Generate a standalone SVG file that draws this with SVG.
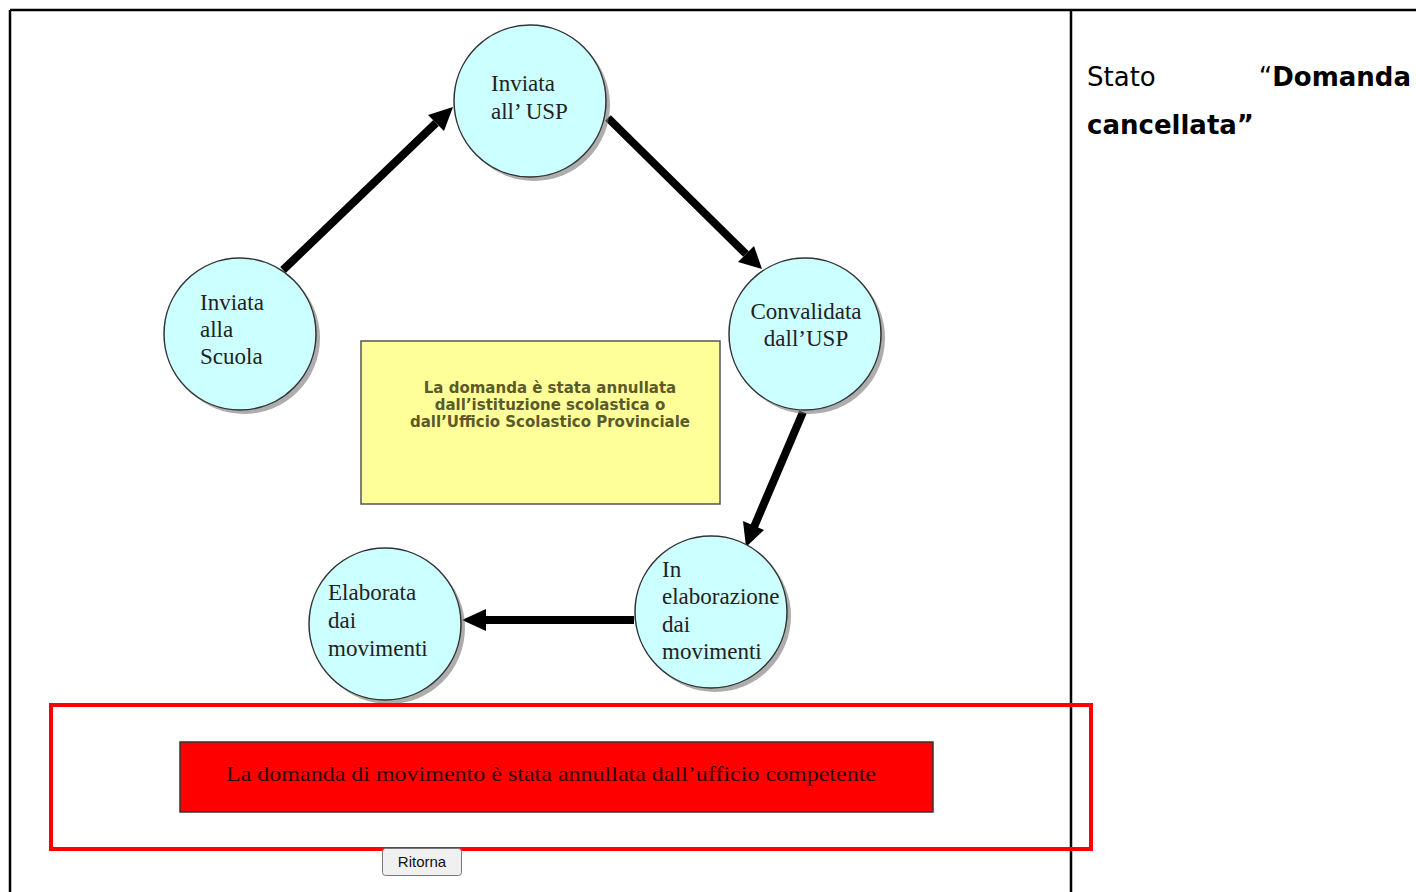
<svg xmlns="http://www.w3.org/2000/svg" width="1416" height="892" viewBox="0 0 1416 892">
<defs>
<style>
.c{fill:#ccffff;stroke:#333;stroke-width:1.5}
.sh{fill:#777;opacity:0.6}
.t{font-family:"Liberation Serif",serif;font-size:23px;fill:#222}
.ln{stroke:#000;stroke-width:8;fill:none}
.hd{fill:#000}
.bt{font-family:"DejaVu Sans",sans-serif;font-weight:bold;font-size:15px;fill:#5a5a2a}
</style>
</defs>
<rect width="1416" height="892" fill="#fff"/>
<g id="table" stroke="#000" stroke-width="2.5" fill="none">
<line x1="10" y1="10" x2="1416" y2="10"/>
<line x1="10" y1="10" x2="10" y2="892"/>
<line x1="1071" y1="10" x2="1071" y2="892"/>
</g>
<g id="connectors">
<line class="ln" x1="283" y1="270" x2="436" y2="123"/>
<polygon class="hd" points="453,107 444,131 428,115"/>
<line class="ln" x1="608" y1="118" x2="746" y2="254"/>
<polygon class="hd" points="762,269 738,262 754,246"/>
<line class="ln" x1="803" y1="412" x2="754" y2="527"/>
<polygon class="hd" points="746,547 743,521 764,530"/>
<line class="ln" x1="634" y1="620" x2="484" y2="620"/>
<polygon class="hd" points="462,620 486,609 486,631"/>
</g>
<g id="n1">
<circle class="sh" cx="244" cy="338" r="76"/>
<circle class="c" cx="240" cy="334" r="76"/>
<text class="t" x="200" y="310">Inviata</text>
<text class="t" x="200" y="337">alla</text>
<text class="t" x="200" y="364">Scuola</text>
</g>
<g id="n2">
<circle class="sh" cx="534" cy="105" r="76"/>
<circle class="c" cx="530" cy="101" r="76"/>
<text class="t" x="491" y="91">Inviata</text>
<text class="t" x="491" y="119">all’ USP</text>
</g>
<g id="n3">
<circle class="sh" cx="809" cy="338" r="76"/>
<circle class="c" cx="805" cy="334" r="76"/>
<text class="t" x="806" y="319" text-anchor="middle">Convalidata</text>
<text class="t" x="806" y="346" text-anchor="middle">dall’USP</text>
</g>
<g id="n4">
<circle class="sh" cx="715" cy="616" r="76"/>
<circle class="c" cx="711" cy="612" r="76"/>
<text class="t" x="662" y="577">In</text>
<text class="t" x="662" y="604">elaborazione</text>
<text class="t" x="662" y="632">dai</text>
<text class="t" x="662" y="659">movimenti</text>
</g>
<g id="n5">
<circle class="sh" cx="389" cy="628" r="76"/>
<circle class="c" cx="385" cy="624" r="76"/>
<text class="t" x="328" y="600">Elaborata</text>
<text class="t" x="328" y="628">dai</text>
<text class="t" x="328" y="656">movimenti</text>
</g>
<g id="note">
<rect x="361" y="341" width="359" height="163" fill="#ffff99" stroke="#555" stroke-width="1.5"/>
<text class="bt" x="550" y="393" text-anchor="middle">La domanda è stata annullata</text>
<text class="bt" x="550" y="410" text-anchor="middle">dall’istituzione scolastica o</text>
<text class="bt" x="550" y="427" text-anchor="middle">dall’Ufficio Scolastico Provinciale</text>
</g>
<g id="message">
<rect x="180" y="742" width="753" height="70" fill="#ff0000" stroke="#333" stroke-width="1.5"/>
<text x="551" y="781" text-anchor="middle" font-family="Liberation Serif,serif" font-size="21" fill="#300" textLength="650" lengthAdjust="spacingAndGlyphs">La domanda di movimento è stata annullata dall’ufficio competente</text>
</g>
<g id="highlight">
<rect x="51" y="705" width="1040" height="144" fill="none" stroke="#ff0000" stroke-width="4"/>
</g>
<g id="button">
<rect x="382.5" y="848.5" width="79" height="27" rx="3" fill="#f0f0f0" stroke="#777" stroke-width="1"/>
<text x="422" y="867" text-anchor="middle" font-family="Liberation Sans,sans-serif" font-size="15" fill="#111">Ritorna</text>
</g>
<g id="status" font-family="DejaVu Sans,sans-serif" font-size="26" fill="#000">
<text x="1087" y="86">Stato</text>
<text x="1411" y="86" text-anchor="end"><tspan>“</tspan><tspan font-weight="bold">Domanda</tspan></text>
<text x="1087" y="134" font-weight="bold">cancellata”</text>
</g>
</svg>
